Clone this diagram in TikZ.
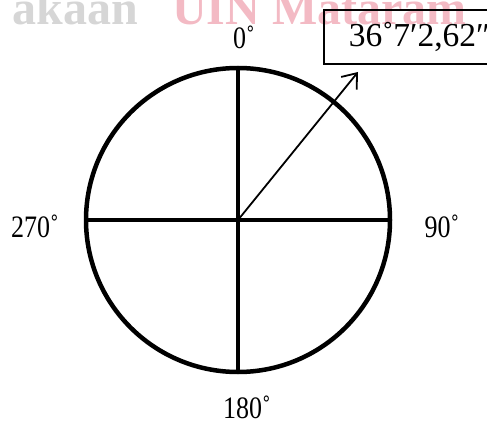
\documentclass[tikz,border=0pt]{standalone}
\usepackage{fontspec}
\setmainfont{Liberation Serif}
\usetikzlibrary{arrows.meta}
\newcommand{\tallish}[1]{\scalebox{1}[1.2]{#1}}
\begin{document}
\begin{tikzpicture}[x=1pt,y=-1pt,
  thick line/.style={line width=4.5pt},
  lbl/.style={font=\fontsize{26}{30}\selectfont, inner sep=0pt},
  boxlbl/.style={font=\fontsize{33.5}{36}\selectfont},
  wm/.style={font=\fontsize{48}{48}\selectfont\bfseries, inner sep=0pt}]
\useasboundingbox (0,0) rectangle (487,422);
\clip (0,0) rectangle (487,422);
% watermark
\node[wm, anchor=base east, text=black!16] (wm1) at (138,25) {akaan};
\node[wm, anchor=base east, text={rgb,255:red,243;green,186;blue,196}] (wm2) at (467,25) {UIN Mataram};
% circle and axes
\coordinate (c) at (238,220);
\draw[thick line] (c) circle (152);
\coordinate (n) at (238,68);
\coordinate (s) at (238,372);
\coordinate (w) at (86,220);
\coordinate (e) at (390,220);
\draw[thick line] (n) -- (s);
\draw[thick line] (w) -- (e);
% labels
\node[lbl] (l0) at (244,37) {\tallish{0˚}};
\node[lbl] (l90) at (442,226) {\tallish{90˚}};
\node[lbl] (l270) at (35,226) {\tallish{270˚}};
\node[lbl] (l180) at (247,407) {\tallish{180˚}};
% box
\node[boxlbl, draw, line width=1.6pt, anchor=west, minimum height=54pt, inner xsep=25pt] (box) at (323,37) {36˚7′2,62″};
% arrow
\coordinate (tip) at (358,72);
\draw[line width=1.8pt, -{Straight Barb[length=13pt,width=20pt,line width=1.8pt]}] (c) -- (tip);
\end{tikzpicture}
\end{document}
